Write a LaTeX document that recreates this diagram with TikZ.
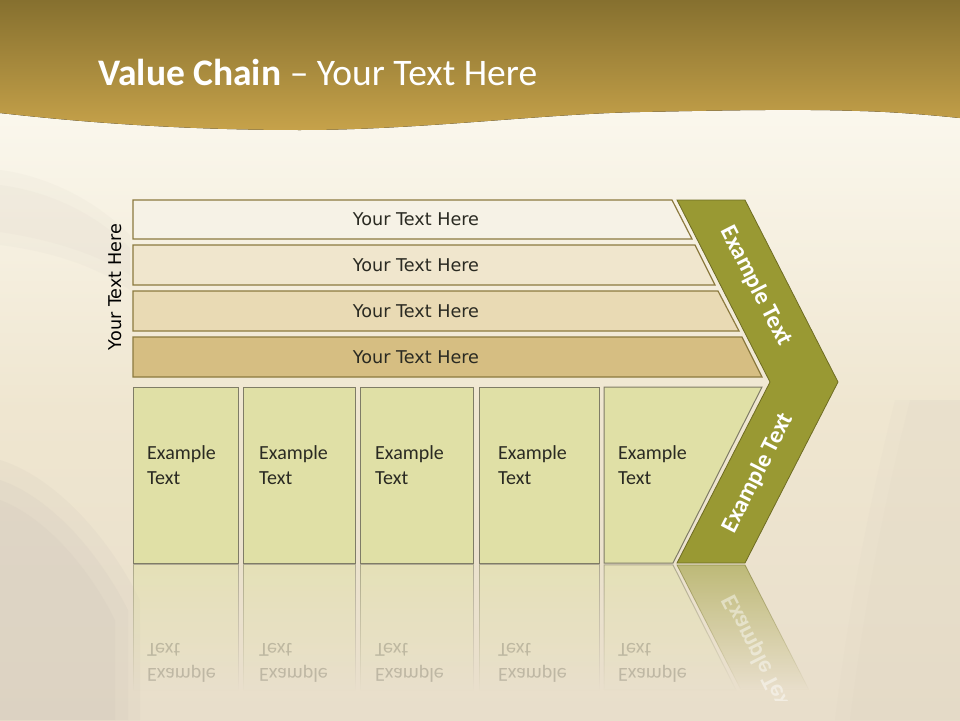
\documentclass[tikz,border=0pt]{standalone}
\usepackage{fontspec}
\setmainfont{Carlito}
\newfontfamily\dejavu{DejaVu Sans}
\usetikzlibrary{fadings}
\tikzfading[name=reflfade, top color=transparent!45, bottom color=transparent!100]
\definecolor{bandtop}{HTML}{86702F}
\definecolor{bandbot}{HTML}{C6A24A}
\definecolor{bgtop}{HTML}{FBF8EE}
\definecolor{bgmid}{HTML}{EFE6D0}
\definecolor{bgbot}{HTML}{E8DECB}
\definecolor{shade}{HTML}{C9C0B6}
\definecolor{barline}{HTML}{8C7A3F}
\definecolor{barA}{HTML}{F6F2E6}
\definecolor{barB}{HTML}{F0E6CD}
\definecolor{barC}{HTML}{E9DAB4}
\definecolor{barD}{HTML}{D6BE82}
\definecolor{boxfill}{HTML}{E0E0A6}
\definecolor{boxline}{HTML}{7F7C66}
\definecolor{chev}{HTML}{999933}
\definecolor{chevline}{HTML}{6E6C22}
\definecolor{txt}{HTML}{2A2A22}
\tikzset{
  barshape/.style={draw=barline, line width=1.2pt, line join=miter},
  bartext/.style={font=\dejavu\fontsize{17.6}{21}\selectfont, text=txt, inner sep=0pt},
  boxshape/.style={draw=boxline, line width=1pt, fill=boxfill},
  boxtext/.style={font=\fontsize{20}{25}\selectfont, text=txt, align=left, inner sep=0pt, anchor=north west},
  chevshape/.style={draw=chevline, line width=0.8pt, fill=chev},
  chevtext/.style={font=\bfseries\fontsize{24}{28}\selectfont, text=white, inner sep=0pt},
  reflbox/.style={draw=boxline, line width=1pt, fill=boxfill, path fading=reflfade},
  refltext/.style={boxtext, yscale=-1, opacity=0.22},
  softshade/.style={fill=shade, opacity=#1},
}
\begin{document}
\begin{tikzpicture}[x=1pt,y=-1pt]
\useasboundingbox (0,0) rectangle (960,720);
% background
\fill[top color=bgtop, bottom color=bgbot, middle color=bgmid] (0,100) rectangle (960,720);
% soft shadows of the blurred photo
\fill[softshade=0.12] (0,460) .. controls (50,475) and (105,530) .. (140,600) -- (140,720) -- (0,720) -- cycle;
\fill[softshade=0.14] (0,480) .. controls (45,495) and (95,545) .. (128,610) -- (128,720) -- (0,720) -- cycle;
\fill[softshade=0.14] (0,500) .. controls (40,515) and (85,560) .. (115,620) -- (115,720) -- (0,720) -- cycle;
\fill[softshade=0.07] (0,170) .. controls (40,175) and (90,195) .. (130,235) -- (130,290) .. controls (90,262) and (40,250) .. (0,245) -- cycle;
\fill[softshade=0.07] (0,185) .. controls (40,190) and (90,208) .. (130,248) -- (130,275) .. controls (90,250) and (40,238) .. (0,232) -- cycle;
\fill[softshade=0.06] (895,400) .. controls (870,500) and (850,600) .. (835,720) -- (960,720) -- (960,400) -- cycle;
\fill[softshade=0.06] (910,400) .. controls (885,500) and (865,600) .. (850,720) -- (960,720) -- (960,400) -- cycle;
% top band
\fill[top color=bandtop, bottom color=bandbot]
  (0,113) .. controls (80,122) and (180,130) .. (300,130)
  .. controls (420,130) and (540,114) .. (640,112)
  .. controls (740,110) and (800,109) .. (860,111)
  .. controls (900,112) and (940,116) .. (960,118)
  -- (960,0) -- (0,0) -- cycle;
\node[anchor=base west, text=white, inner sep=0pt, font=\fontsize{37.5}{44}\selectfont] (title) at (98,85) {\textbf{Value Chain} – Your Text Here};
% side label
\node[rotate=90, bartext, text=black] (side) at (115,287) {Your Text Here};
% bars
\draw[barshape, fill=barA] (133,200) -- (672,200) -- (692,239) -- (133,239) -- cycle;
\draw[barshape, fill=barB] (133,245) -- (695,245) -- (715,285) -- (133,285) -- cycle;
\draw[barshape, fill=barC] (133,291) -- (718,291) -- (739,331) -- (133,331) -- cycle;
\draw[barshape, fill=barD] (133,337) -- (742,337) -- (762,377) -- (133,377) -- cycle;
\node[bartext] (b1) at (416,219) {Your Text Here};
\node[bartext] (b2) at (416,265) {Your Text Here};
\node[bartext] (b3) at (416,311) {Your Text Here};
\node[bartext] (b4) at (416,357) {Your Text Here};
% boxes
\draw[boxshape] (133,387) rectangle (238,563);
\draw[boxshape] (243,387) rectangle (355,563);
\draw[boxshape] (360,387) rectangle (473,563);
\draw[boxshape] (479,387) rectangle (599,563);
\draw[boxshape] (604,387) -- (762,387) -- (673,563) -- (604,563) -- cycle;
\node[boxtext] (e1) at (147,445) {Example\\Text};
\node[boxtext] (e2) at (259,445) {Example\\Text};
\node[boxtext] (e3) at (375,445) {Example\\Text};
\node[boxtext] (e4) at (498,445) {Example\\Text};
\node[boxtext] (e5) at (618,445) {Example\\Text};
% chevron
\draw[chevshape] (677,200) -- (745,200) -- (838,382) -- (745,563) -- (677,563) -- (770,382) -- cycle;
\node[chevtext, rotate=-63] (c1) at (756,286) {Example Text};
\node[chevtext, rotate=63] (c2) at (758,473) {Example Text};
% reflection
\path[reflbox] (133,565) rectangle (238,690);
\path[reflbox] (243,565) rectangle (355,690);
\path[reflbox] (360,565) rectangle (473,690);
\path[reflbox] (479,565) rectangle (599,690);
\path[reflbox] (604,565) -- (673,565) -- (736,690) -- (604,690) -- cycle;
\path[draw=chevline, line width=0.8pt, fill=chev, path fading=reflfade] (677,565) -- (745,565) -- (809,690) -- (741,690) -- cycle;
\node[refltext] (r1) at (147,683) {Example\\Text};
\node[refltext] (r2) at (259,683) {Example\\Text};
\node[refltext] (r3) at (375,683) {Example\\Text};
\node[refltext] (r4) at (498,683) {Example\\Text};
\node[refltext] (r5) at (618,683) {Example\\Text};
\begin{scope}
\clip (660,565) rectangle (860,700);
\node[chevtext, yscale=-1, rotate=63, opacity=0.45] (rc) at (758,655) {Example Text};
\end{scope}
\end{tikzpicture}
\end{document}
